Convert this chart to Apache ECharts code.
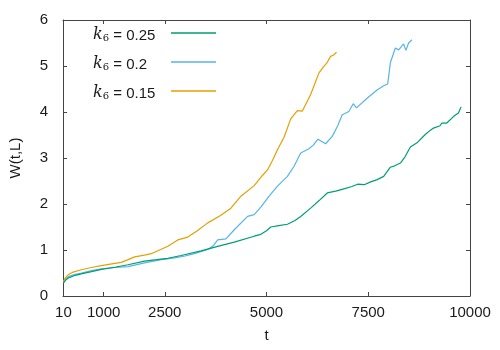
<!DOCTYPE html>
<html>
<head>
<meta charset="utf-8">
<script src="https://cdn.jsdelivr.net/npm/echarts@6/dist/echarts.min.js"></script>
<style>html,body{margin:0;padding:0;background:#fff}#c{width:500px;height:350px}#e{position:absolute;left:240px;top:200px;width:220px;font:9px monospace;white-space:pre-wrap;color:#c00;pointer-events:none}</style>
</head>
<body>
<div id="c"></div>
<div id="e"></div>
<script>
const log = m => document.getElementById('e').textContent += m + '\n';
window.onerror = (m) => log('ERR ' + m);
console.error = (...a) => { log('CE ' + a.join(' ')); };
console.warn = (...a) => { log('CW ' + a.join(' ')); };
// ---- data ----
const xTickLabels = [10, 1000, 2500, 5000, 7500, 10000];
const seriesNames = ['k6 = 0.25', 'k6 = 0.2', 'k6 = 0.15'];

const tGreen = [10, 60, 150, 300, 500, 700, 944, 1300, 1597, 2004, 2300, 2577, 2902, 3392, 3801, 4208, 4697, 4861, 5000, 5106, 5300, 5514, 5700, 5840, 6085, 6300, 6493, 6700, 6900, 7100, 7240, 7400, 7560, 7720, 7880, 8043, 8150, 8290, 8400, 8535, 8698, 8900, 9022, 9103, 9266, 9307, 9430, 9593, 9715, 9781];
const wGreen = [0.28, 0.34, 0.40, 0.45, 0.49, 0.53, 0.58, 0.63, 0.68, 0.76, 0.79, 0.82, 0.88, 0.98, 1.08, 1.17, 1.30, 1.34, 1.42, 1.50, 1.53, 1.56, 1.64, 1.73, 1.91, 2.08, 2.24, 2.28, 2.33, 2.38, 2.43, 2.42, 2.48, 2.53, 2.60, 2.80, 2.83, 2.89, 3.02, 3.24, 3.33, 3.51, 3.60, 3.65, 3.70, 3.76, 3.76, 3.90, 3.98, 4.11];

const tBlue = [10, 60, 150, 300, 454, 700, 944, 1300, 1597, 2004, 2412, 2739, 3000, 3228, 3556, 3700, 3801, 4004, 4208, 4535, 4697, 4861, 5064, 5269, 5514, 5677, 5840, 6043, 6150, 6264, 6452, 6616, 6750, 6861, 7024, 7130, 7211, 7472, 7717, 7880, 7978, 8043, 8165, 8247, 8369, 8426, 8491, 8573];
const wBlue = [0.30, 0.37, 0.43, 0.47, 0.50, 0.55, 0.59, 0.62, 0.64, 0.72, 0.79, 0.83, 0.87, 0.92, 1.01, 1.10, 1.22, 1.24, 1.44, 1.73, 1.77, 1.93, 2.17, 2.39, 2.60, 2.82, 3.11, 3.20, 3.28, 3.41, 3.31, 3.47, 3.70, 3.94, 4.01, 4.18, 4.09, 4.30, 4.48, 4.57, 4.61, 5.07, 5.39, 5.35, 5.48, 5.34, 5.50, 5.57];

const tOrange = [10, 60, 128, 250, 454, 700, 944, 1200, 1433, 1600, 1760, 2000, 2168, 2400, 2577, 2821, 3066, 3300, 3556, 3850, 4126, 4371, 4697, 4900, 5024, 5150, 5269, 5431, 5595, 5759, 5881, 5921, 6085, 6289, 6400, 6493, 6574, 6650, 6721];
const wOrange = [0.32, 0.40, 0.46, 0.52, 0.57, 0.62, 0.66, 0.70, 0.73, 0.79, 0.85, 0.89, 0.92, 1.01, 1.08, 1.22, 1.28, 1.42, 1.59, 1.74, 1.91, 2.17, 2.40, 2.62, 2.74, 2.95, 3.18, 3.45, 3.85, 4.03, 4.02, 4.05, 4.38, 4.85, 4.98, 5.08, 5.21, 5.24, 5.30];

const colors = ['#009e73', '#56b4e9', '#e69f00'];

function zip(t, w) { return t.map((v, i) => [v, w[i]]); }

const axisColor = '#444';
const textColor = '#1a1a1a';
const font = 'Liberation Sans, Arial, sans-serif';

const legendRich = {
  k: {fontFamily: 'DejaVu Serif', fontStyle: 'italic', fontSize: 16, color: textColor, lineHeight: 20, verticalAlign: 'bottom', align: 'left'},
  s: {fontFamily: 'DejaVu Serif', fontSize: 10, color: textColor, lineHeight: 11, verticalAlign: 'bottom', align: 'left'},
  n: {fontFamily: font, fontSize: 15, color: textColor, lineHeight: 20, verticalAlign: 'bottom', align: 'left'}
};

function mirrorX() {
  return {
    type: 'value', min: 0, max: 10000, position: 'top',
    axisLine: {show: true, onZero: false, lineStyle: {color: axisColor, width: 1}},
    axisTick: {show: true, inside: true, length: 4, customValues: xTickLabels, lineStyle: {color: axisColor}},
    axisLabel: {show: false, customValues: xTickLabels},
    splitLine: {show: false}
  };
}
function mirrorY() {
  return {
    type: 'value', min: 0, max: 6, interval: 1, position: 'right',
    axisLine: {show: true, onZero: false, lineStyle: {color: axisColor, width: 1}},
    axisTick: {show: true, inside: true, length: 4, lineStyle: {color: axisColor}},
    axisLabel: {show: false},
    splitLine: {show: false}
  };
}

try {
const chart = echarts.init(document.getElementById('c'));
chart.setOption({
  animation: false,
  grid: {left: 61.5, right: 30, top: 20, bottom: 54, containLabel: false},
  legend: {
    orient: 'vertical',
    left: 88,
    top: 22,
    align: 'right',
    itemWidth: 45,
    itemHeight: 1.5,
    itemGap: 13,
    icon: 'rect',
    data: seriesNames,
    formatter: function (name) {
      const v = name.split('= ')[1];
      return '{k|k}{s|6}{n| = ' + v + '}';
    },
    textStyle: {width: 73, align: 'left', rich: legendRich}
  },
  xAxis: [{
    type: 'value', min: 0, max: 10000,
    name: 't', nameLocation: 'middle', nameGap: 32,
    nameTextStyle: {fontFamily: font, fontSize: 15, color: textColor},
    axisLine: {show: true, onZero: false, lineStyle: {color: axisColor, width: 1}},
    axisTick: {show: true, inside: true, length: 4, customValues: xTickLabels, lineStyle: {color: axisColor}},
    axisLabel: {customValues: xTickLabels, margin: 9, fontFamily: font, fontSize: 15, color: textColor, formatter: v => String(v)},
    splitLine: {show: false}
  }, mirrorX()],
  yAxis: [{
    type: 'value', min: 0, max: 6, interval: 1,
    name: 'W(t,L)', nameLocation: 'middle', nameGap: 40,
    nameTextStyle: {fontFamily: font, fontSize: 15, color: textColor},
    axisLine: {show: true, onZero: false, lineStyle: {color: axisColor, width: 1}},
    axisTick: {show: true, inside: true, length: 4, lineStyle: {color: axisColor}},
    axisLabel: {margin: 15, fontFamily: font, fontSize: 15, color: textColor, formatter: v => String(v)},
    splitLine: {show: false}
  }, mirrorY()],
  series: [
    {name: seriesNames[0], type: 'line', data: zip(tGreen, wGreen), showSymbol: false, lineStyle: {width: 1.2, color: colors[0]}, itemStyle: {color: colors[0]}, z: 3},
    {name: seriesNames[1], type: 'line', data: zip(tBlue, wBlue), showSymbol: false, lineStyle: {width: 1.2, color: colors[1]}, itemStyle: {color: colors[1]}, z: 2},
    {name: seriesNames[2], type: 'line', data: zip(tOrange, wOrange), showSymbol: false, lineStyle: {width: 1.2, color: colors[2]}, itemStyle: {color: colors[2]}, z: 4}
  ]
});
} catch (e) { log('EXC ' + e.message); }
</script>
</body>
</html>
